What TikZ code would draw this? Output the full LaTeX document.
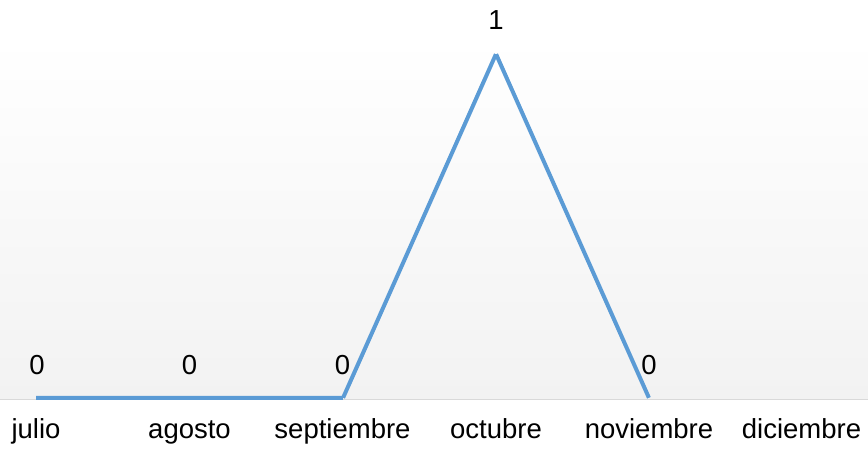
\documentclass[tikz,border=0pt]{standalone}
\usepackage{fontspec}
\setmainfont{Liberation Sans}
\definecolor{serie}{HTML}{5B9BD5}
\definecolor{eje}{HTML}{D9D9D9}
\definecolor{fondo}{HTML}{F2F2F2}
\begin{document}
\begin{tikzpicture}[x=1bp, y=1bp,
		pt/.style={inner sep=0pt, minimum size=0pt},
		txt/.style={anchor=base, inner sep=0pt, font=\fontsize{27.5bp}{30bp}\selectfont}]
		\useasboundingbox (0,0) rectangle (868,449);
		\shade[top color=white, bottom color=fondo] (0,50) rectangle (868,411);
		\draw[eje, line width=1.5bp] (0,49.5) -- (868,49.5);
		\node[pt] (P0) at (36,51) {};
		\node[pt] (P1) at (189.5,51) {};
		\node[pt] (P2) at (343,51) {};
		\node[pt] (P3) at (496,395) {};
		\node[pt] (P4) at (649,51) {};
		\node[pt] (P5) at (802,51) {};
		\draw[serie, line width=4bp, line join=round] (P0) -- (P1) -- (P2) -- (P3) -- (P4);
		\node[txt] (V0) at (37,74) {0};  \node[txt] (V1) at (189.5,74) {0};
		\node[txt] (V2) at (342.5,74) {0}; \node[txt] (V3) at (496,419) {1};
		\node[txt] (V4) at (649,74) {0};
		\node[txt] (M0) at (36,10) {julio};  \node[txt] (M1) at (189.5,10) {agosto};
		\node[txt] (M2) at (342.5,10) {septiembre}; \node[txt] (M3) at (496,10) {octubre};
		\node[txt] (M4) at (649,10) {noviembre}; \node[txt] (M5) at (801.5,10) {diciembre};
	\end{tikzpicture}
\end{document}
